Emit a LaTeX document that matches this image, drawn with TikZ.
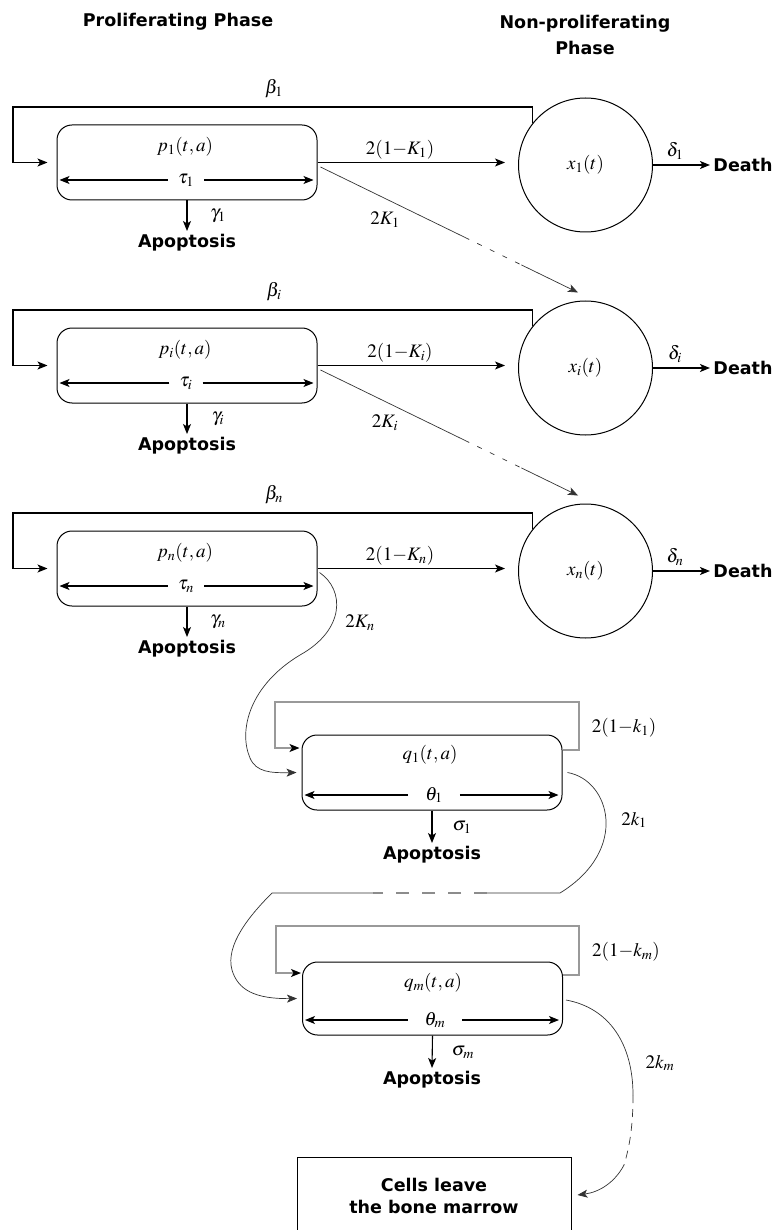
\documentclass[tikz,border=0pt]{standalone}
\usepackage{mathptmx}
\usepackage[no-math]{fontspec}
\newfontfamily\lblfont{DejaVu Sans}
\usetikzlibrary{arrows.meta,calc}
\begin{document}
\begin{tikzpicture}[x=1pt,y=-1pt,
  arr/.style={-{Stealth[length=10pt,width=8pt,inset=2.5pt]}},
  ln/.style={line width=1.1pt},
  fine/.style={line width=0.7pt, draw=black!80},
  grayb/.style={line width=1.3pt, draw=black!40},
  box/.style={draw, line width=1pt, rounded corners=15pt, minimum width=260pt, minimum height=75pt, inner sep=0pt},
  circ/.style={draw, circle, line width=1pt, minimum size=134pt, inner sep=0pt, font=\fontsize{19}{22}\selectfont},
  bold/.style={font=\lblfont\bfseries\fontsize{17.5}{22}\selectfont},
  mth/.style={font=\fontsize{19}{22}\selectfont, inner sep=1pt},
]
\useasboundingbox (0,0) rectangle (779,1230);

% headers
\node[bold] (h1) at (178,22) {Proliferating Phase};
\node[bold, align=center, font=\lblfont\bfseries\fontsize{17.5}{26}\selectfont] (h2) at (585,35) {Non-proliferating\\Phase};

% three rows
\foreach \s/\r in {1/0, i/203, n/406} {
  \node[box] (p\s) at (187,162.5+\r) {};
  \node[circ] (x\s) at (585.5,165+\r) {$x_{\s}(t)$};
  \node[mth] (pl\s) at (185,147+\r) {$p_{\s}(t,a)$};
  \node[mth, inner xsep=10pt] (tau\s) at (186,180+\r) {$\tau_{\s}$};
  \draw[ln,arr] (tau\s.west) -- ($(p\s.west |- tau\s.west)+(3,0)$);
  \draw[ln,arr] (tau\s.east) -- ($(p\s.east |- tau\s.east)+(-4,0)$);
  \node[bold] (ap\s) at (187,243+\r) {Apoptosis};
  \draw[ln,arr] (p\s.south) -- (ap\s.north);
  \node[mth] (g\s) at (218,216+\r) {$\gamma_{\s}$};
  \node[mth] (b\s) at (274,89+\r) {$\beta_{\s}$};
  \draw[ln,arr] (x\s.142) -- (x\s.142 |- 0,107+\r) -- (13,107+\r) |- ($(p\s.west)+(-9,0)$);
  \draw[ln,arr] (p\s.east) -- ($(x\s.west |- p\s.east)+(-13,0)$);
  \node[mth] (o\s) at (400,150+\r) {$2(1{-}K_{\s})$};
  \node[bold] (d\s) at (743,165+\r) {Death};
  \draw[ln,arr] (x\s.east) -- (d\s.west);
  \node[mth] (dl\s) at (675,151+\r) {$\delta_{\s}$};
}

% diagonal 2K connectors
\node[mth] (k1) at (385,220) {$2K_1$};
\node[mth] (ki) at (385,423) {$2K_i$};
\foreach \a/\b in {1/i, i/n} {
  \coordinate (s\a) at ($(p\a.east)+(3,4.5)$);
  \coordinate (e\a) at ($(x\b.north)+(-7.5,-8)$);
  \draw[fine] (s\a) -- ($(s\a)!0.56!(e\a)$);
  \draw[fine, dash pattern=on 5pt off 9pt] ($(s\a)!0.56!(e\a)$) -- ($(s\a)!0.78!(e\a)$);
  \draw[fine, arr] ($(s\a)!0.78!(e\a)$) -- (e\a);
}

% q boxes
\node[box] (q1) at (432,772.5) {};
\node[box, minimum height=73pt] (qm) at (432.5,998.5) {};
\node[draw, line width=1pt, minimum width=274pt, minimum height=78pt, bold, align=center] (cells) at (434,1196) {Cells leave\\the bone marrow};

% 2K_n curve
\node[mth] (kn) at (360,623) {$2K_n$};
\draw[fine,arr] ($(pn.east)+(2,4)$) .. controls (345,590) and (345,630) .. (300,655)
  .. controls (250,685) and (238,730) .. (250,758)
  .. controls (256,772) and (270,773) .. ($(q1.west)+(-5,0)$);

% q1 contents
\node[mth] (ql1) at (430,755) {$q_1(t,a)$};
\node[mth, inner xsep=17pt] (th1) at (434,795) {$\theta_1$};
\draw[ln,arr] (th1.west) -- ($(q1.west |- th1.west)+(3,0)$);
\draw[ln,arr] (th1.east) -- ($(q1.east |- th1.east)+(-4,0)$);
\node[bold] (apq1) at (432,855) {Apoptosis};
\draw[ln,arr] (q1.south) -- (apq1.north);
\node[mth] (sg1) at (462,827) {$\sigma_1$};
\draw[grayb, -{Stealth[length=10pt,width=8pt,inset=2.5pt,black]}] ($(q1.east)+(0,-22.5)$) -- (579,750) -- (579,702) -- (275,702) -- (275,748) -- ($(q1.west)+(-2,-24.5)$);
\node[mth] (kk1) at (624,728) {$2(1{-}k_1)$};

% 2k_1 curve
\node[mth] (kl1) at (634,820) {$2k_1$};
\draw[fine] ($(q1.east)+(5,0)$) .. controls (610,780) and (630,850) .. (560,893) -- (487,893);
\draw[line width=1.2pt, draw=black!45, dash pattern=on 13pt off 13pt] (487,893) -- (373,893);
\draw[fine,arr] (373,893) -- (272,893) .. controls (250,915) and (225,945) .. (232,970)
  .. controls (238,990) and (255,999) .. ($(qm.west)+(-5,0)$);

% qm contents
\node[mth] (qlm) at (433,983) {$q_m(t,a)$};
\node[mth, inner xsep=17pt] (thm) at (435,1020) {$\theta_m$};
\draw[ln,arr] (thm.west) -- ($(qm.west |- thm.west)+(3,0)$);
\draw[ln,arr] (thm.east) -- ($(qm.east |- thm.east)+(-4,0)$);
\node[bold] (apqm) at (432,1080) {Apoptosis};
\draw[ln,arr] (qm.south) -- (apqm.north);
\node[mth] (sgm) at (463,1052) {$\sigma_m$};
\draw[grayb, -{Stealth[length=10pt,width=8pt,inset=2.5pt,black]}] ($(qm.east)+(0,-23.5)$) -- (579,975) -- (579,926) -- (276,926) -- (276,973) -- ($(qm.west)+(-1,-25.5)$);
\node[mth] (kkm) at (626,952) {$2(1{-}k_m)$};

% 2k_m curve
\node[mth] (klm) at (660,1063) {$2k_m$};
\draw[fine] ($(qm.east)+(3,1.5)$) .. controls (610,1008) and (633,1045) .. (633,1095);
\draw[fine, dash pattern=on 8pt off 6pt] (633,1095) .. controls (633,1125) and (630,1145) .. (624,1165);
\draw[fine,arr] (624,1165) .. controls (615,1182) and (600,1192) .. ($(cells.east)+(6,-1)$);
\end{tikzpicture}
\end{document}
